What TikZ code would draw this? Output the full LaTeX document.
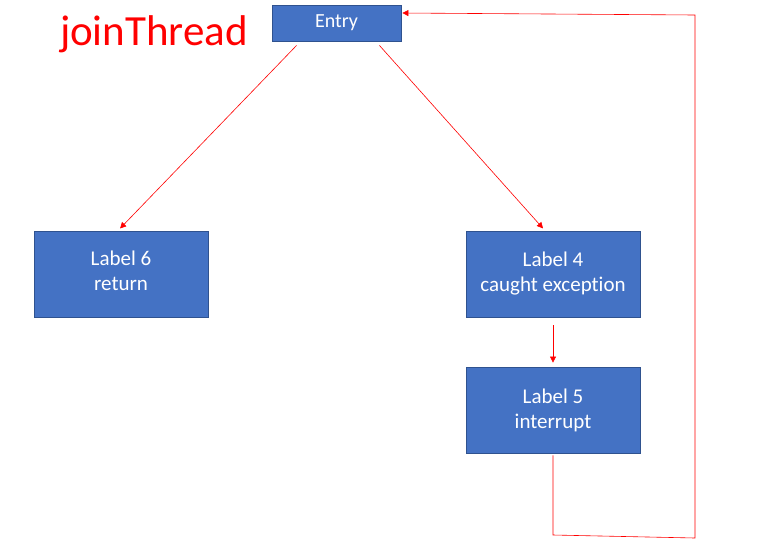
\documentclass[tikz,border=0pt]{standalone}
\usepackage{fontspec}
\setmainfont{Carlito}[Ligatures=NoCommon]
\usetikzlibrary{arrows.meta}

\definecolor{boxblue}{HTML}{4472C4}
\definecolor{boxedge}{HTML}{2F528F}
\tikzset{
  block/.style={draw=boxedge, line width=0.8pt, fill=boxblue, text=white,
    align=center, font=\fontsize{21}{25}\selectfont,
    minimum width=174pt, minimum height=86pt, inner sep=0pt},
  flow/.style={red, line width=0.6pt}
}

\begin{document}
\begin{tikzpicture}[x=1pt, y=-1pt, >={Triangle[length=6pt, width=6pt]}]
  \useasboundingbox (0,0) rectangle (762,554);
  % 1. title and entry
  \node[anchor=base, red, font=\fontsize{43}{43}\selectfont] (title) at (154,45) {joinThread};
  \node[block, minimum width=129pt, minimum height=36pt, font=\fontsize{20}{24}\selectfont] (entry) at (336.5,23) {Entry};
  % 2. labels
  \node[block] (lab6) at (121,274) {Label 6\\return\strut};
  \node[block] (lab4) at (553,274) {Label 4\\caught exception};
  \node[block] (lab5) at (553,410) {Label 5\\interrupt};
  % 3. loop corners
  \coordinate (c1) at (553,535);
  \coordinate (c2) at (695,538);
  \coordinate (c3) at (695,15);
  % 4. edges
  \draw[flow, ->, shorten >=3pt] ([xshift=25pt, yshift=-4pt]entry.south west) -- ([xshift=-3pt]lab6.north);
  \draw[flow, ->, shorten >=3pt] ([xshift=-22pt, yshift=-4pt]entry.south east) -- ([xshift=-8pt]lab4.north);
  \draw[flow, ->, shorten <=8pt, shorten >=4pt] (lab4.south) -- (lab5.north);
  \draw[flow, ->, shorten <=2pt, shorten >=1pt] (lab5.south) -- (c1) -- (c2) -- (c3) -- ([yshift=10pt]entry.east);
\end{tikzpicture}
\end{document}
